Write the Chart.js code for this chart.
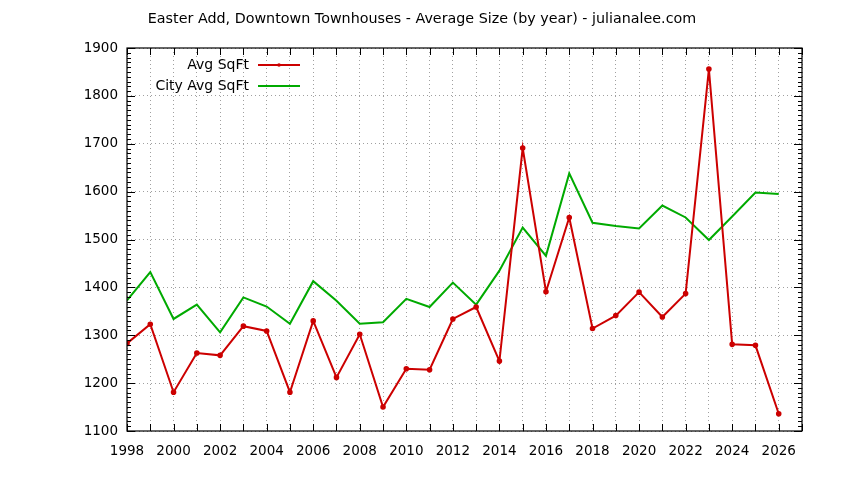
<!DOCTYPE html>
<html>
<head>
<meta charset="utf-8">
<script src="https://cdn.jsdelivr.net/npm/chart.js@4.4.0/dist/chart.umd.min.js"></script>
<style>
  html, body { margin:0; padding:0; background:#fff; }
  #wrap { width:844px; height:480px; }
</style>
</head>
<body>
<div id="wrap"><canvas id="myChart" width="844" height="480"></canvas></div>
<script>
const years = [1998,1999,2000,2001,2002,2003,2004,2005,2006,2007,2008,2009,2010,2011,2012,
               2013,2014,2015,2016,2017,2018,2019,2020,2021,2022,2023,2024,2025,2026];
const avgSqft = [1283,1323,1181,1263,1258,1319,1309,1181,1330,1212,1302,1150,1230,1228,1334,
                 1359,1246,1691,1391,1546,1314,1341,1390,1338,1387,1856,1281,1279,1136];
const cityAvgSqft = [1373,1432,1334,1364,1306,1379,1360,1324,1413,1372,1324,1327,1376,1359,1410,
                     1364,1435,1525,1466,1638,1535,1528,1523,1571,1546,1499,1548,1598,1595];
const yearLabels = [1998,2000,2002,2004,2006,2008,2010,2012,2014,2016,2018,2020,2022,2024,2026];
const chartTitle = 'Easter Add, Downtown Townhouses - Average Size (by year) - julianalee.com';

const RED = '#cc0000';
const GREEN = '#00aa00';
const FONT = 'DejaVu Sans';

// gnuplot style: box, inward ticks, title over whole page, legend left of the sample line
const gnuplotBits = {
    id: 'gnuplotBits',
    afterDraw(chart) {
        const c = chart.ctx, a = chart.chartArea;
        const xs = chart.scales.x, ys = chart.scales.y;
        c.save();
        c.strokeStyle = '#000';
        c.lineWidth = 1;
        c.beginPath();
        for (let yr = 1998; yr <= 2027; yr++) {
            const px = Math.round(xs.getPixelForValue(yr)) + 0.5;
            c.moveTo(px, a.bottom); c.lineTo(px, a.bottom - 7);
            c.moveTo(px, a.top); c.lineTo(px, a.top + 7);
        }
        for (let v = 1100; v <= 1900; v += 10) {
            const py = Math.round(ys.getPixelForValue(v)) + 0.5;
            const len = v % 100 === 0 ? 8 : 4;
            c.moveTo(a.left, py); c.lineTo(a.left + len, py);
            c.moveTo(a.right, py); c.lineTo(a.right - len, py);
        }
        c.stroke();
        c.lineWidth = 1.2;
        c.strokeRect(a.left, a.top, a.right - a.left, a.bottom - a.top);

        // title
        c.fillStyle = '#000';
        c.font = '14.3px "' + FONT + '"';
        c.textAlign = 'center';
        c.textBaseline = 'middle';
        c.fillText(chartTitle, chart.width / 2, 19);

        // legend
        c.font = '14px "' + FONT + '"';
        c.textAlign = 'right';
        chart.data.datasets.forEach((ds, i) => {
            const y = 65 + i * 21;
            c.fillText(ds.label, 249, y);
            c.strokeStyle = ds.borderColor;
            c.lineWidth = 2;
            c.beginPath();
            c.moveTo(258, y); c.lineTo(300, y);
            c.stroke();
            if (ds.pointRadius > 0) {
                c.fillStyle = ds.borderColor;
                c.beginPath();
                c.arc(279, y, 1.8, 0, Math.PI * 2);
                c.fill();
                c.fillStyle = '#000';
            }
        });
        c.restore();
    }
};

const ctx = document.querySelector('#myChart');
const myChart = new Chart(ctx, {
    type: 'line',
    data: {
        datasets: [{
            label: 'Avg SqFt',
            data: years.map((yr, i) => ({x: yr, y: avgSqft[i]})),
            borderColor: RED,
            backgroundColor: RED,
            borderWidth: 2,
            pointRadius: 1.8,
            pointHoverRadius: 1.8,
            tension: 0
        }, {
            label: 'City Avg SqFt',
            data: years.map((yr, i) => ({x: yr, y: cityAvgSqft[i]})),
            borderColor: GREEN,
            backgroundColor: GREEN,
            borderWidth: 2,
            pointRadius: 0,
            tension: 0
        }]
    },
    options: {
        responsive: false,
        animation: false,
        events: [],
        layout: { padding: { left: 0, right: 42, top: 48, bottom: 0 } },
        plugins: {
            legend: { display: false },
            tooltip: { enabled: false },
            title: { display: false }
        },
        scales: {
            x: {
                type: 'linear',
                min: 1998,
                max: 2027,
                afterFit: s => { s.height = 49; },
                afterBuildTicks: s => { s.ticks = years.concat([2027]).map(v => ({value: v})); },
                ticks: {
                    autoSkip: false,
                    maxRotation: 0,
                    padding: 12,
                    color: '#000',
                    font: { family: FONT, size: 13.5 },
                    callback: v => yearLabels.includes(v) ? String(v) : ''
                },
                grid: { color: '#a0a0a0', lineWidth: 1, drawTicks: false },
                border: { display: false, dash: [1, 3] }
            },
            y: {
                min: 1100,
                max: 1900,
                afterFit: s => { s.width = 127; },
                ticks: {
                    stepSize: 100,
                    padding: 9,
                    color: '#000',
                    font: { family: FONT, size: 13.5 },
                    callback: v => String(v)
                },
                grid: { color: '#a0a0a0', lineWidth: 1, drawTicks: false },
                border: { display: false, dash: [1, 3] }
            }
        }
    },
    plugins: [gnuplotBits]
});
</script>
</body>
</html>
